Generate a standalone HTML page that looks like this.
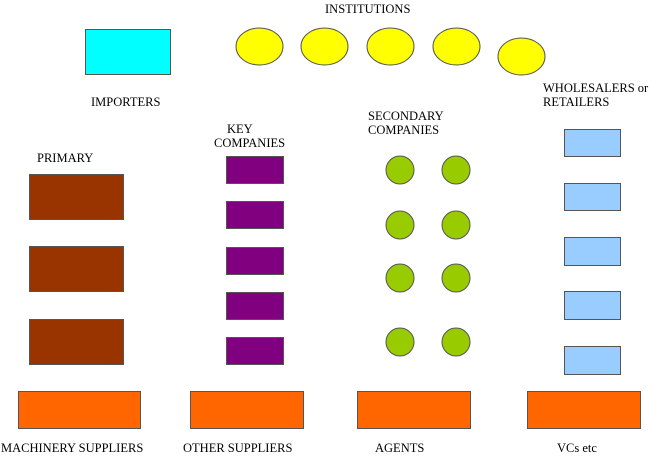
<!DOCTYPE html>
<html><head><style>body{margin:0;background:#fff}svg{display:block}text{font-family:"Liberation Serif",serif;font-size:12.5px;fill:#000}</style></head><body>
<svg width="650" height="456" xmlns="http://www.w3.org/2000/svg">
<g stroke="#555" stroke-width="1">
<rect x="85.5" y="29.5" width="85" height="45" fill="#00ffff"/>
<ellipse cx="259.5" cy="46.5" rx="23.5" ry="18.5" fill="#ffff00"/>
<ellipse cx="324.5" cy="46.5" rx="23.5" ry="18.5" fill="#ffff00"/>
<ellipse cx="390.5" cy="46.5" rx="23.5" ry="18.5" fill="#ffff00"/>
<ellipse cx="456.5" cy="46.5" rx="23.5" ry="18.5" fill="#ffff00"/>
<ellipse cx="521.5" cy="56.5" rx="23.5" ry="18.5" fill="#ffff00"/>
<g fill="#993300">
<rect x="29.5" y="174.5" width="94" height="45"/>
<rect x="29.5" y="246.5" width="94" height="45"/>
<rect x="29.5" y="319.5" width="94" height="45"/>
</g>
<g fill="#800080">
<rect x="226.5" y="156.5" width="57" height="27"/>
<rect x="226.5" y="201.5" width="57" height="27"/>
<rect x="226.5" y="247.5" width="57" height="27"/>
<rect x="226.5" y="292.5" width="57" height="27"/>
<rect x="226.5" y="337.5" width="57" height="27"/>
</g>
<g fill="#99cc00">
<ellipse cx="400" cy="170" rx="14" ry="14"/><ellipse cx="456" cy="170" rx="14" ry="14"/>
<ellipse cx="400" cy="225" rx="14" ry="14"/><ellipse cx="456" cy="225" rx="14" ry="14"/>
<ellipse cx="400" cy="278" rx="14" ry="14"/><ellipse cx="456" cy="278" rx="14" ry="14"/>
<ellipse cx="400" cy="342" rx="14" ry="14"/><ellipse cx="456" cy="342" rx="14" ry="14"/>
</g>
<g fill="#99ccff">
<rect x="564.5" y="129.5" width="56" height="27"/>
<rect x="564.5" y="183.5" width="56" height="27"/>
<rect x="564.5" y="237.5" width="56" height="28"/>
<rect x="564.5" y="291.5" width="56" height="28"/>
<rect x="564.5" y="346.5" width="56" height="28"/>
</g>
<g fill="#ff6600">
<rect x="18.5" y="391.5" width="122" height="37"/>
<rect x="190.5" y="391.5" width="113" height="37"/>
<rect x="357.5" y="391.5" width="113" height="37"/>
<rect x="527.5" y="391.5" width="113" height="37"/>
</g>
</g>
<text x="325" y="13">INSTITUTIONS</text>
<text x="91" y="106">IMPORTERS</text>
<text x="37" y="162">PRIMARY</text>
<text x="227" y="133">KEY</text>
<text x="214" y="147">COMPANIES</text>
<text x="368" y="120">SECONDARY</text>
<text x="368" y="134">COMPANIES</text>
<text x="543" y="92">WHOLESALERS or</text>
<text x="543" y="106">RETAILERS</text>
<text x="1" y="452">MACHINERY SUPPLIERS</text>
<text x="183" y="452">OTHER SUPPLIERS</text>
<text x="375" y="452">AGENTS</text>
<text x="557" y="452">VCs etc</text>
</svg>
</body></html>
